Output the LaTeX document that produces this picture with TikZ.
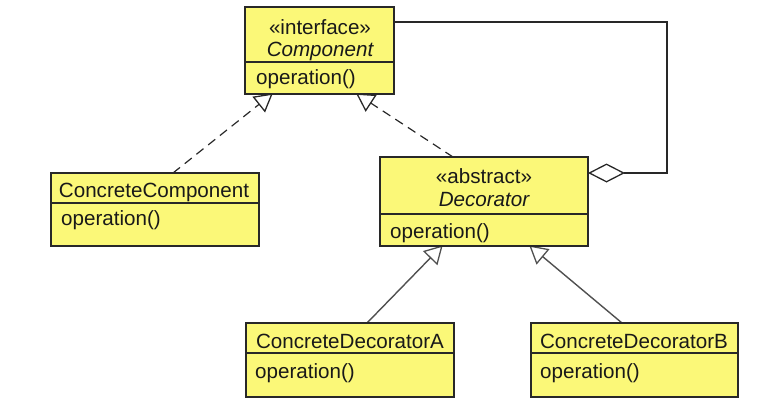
\documentclass[tikz,border=0pt]{standalone}
\usepackage{fontspec}
\setmainfont{Liberation Sans}
\usetikzlibrary{arrows.meta,calc,backgrounds}
\definecolor{umlfill}{RGB}{251,248,120}
\definecolor{boxline}{RGB}{40,40,40}
\definecolor{inhcol}{RGB}{80,80,80}
\definecolor{textcol}{RGB}{25,25,25}
\begin{document}
\begin{tikzpicture}[x=1pt,y=-1pt,
  font=\fontsize{20.6}{24}\selectfont,
  box/.style={draw=boxline, line width=1.3pt, fill=umlfill, anchor=north west,
    inner sep=0pt, outer sep=0pt},
  txt/.style={inner sep=0pt, text=textcol, anchor=base},
  optxt/.style={inner sep=0pt, text=textcol, anchor=base west},
  divider/.style={draw=boxline, line width=1.3pt},
  realize/.style={draw=boxline, line width=1.2pt, dash pattern=on 9pt off 6pt,
    shorten >=-1pt,
    -{Triangle[open, length=18pt, width=20pt, line width=1.3pt]}},
  inherit/.style={draw=inhcol, line width=1.4pt, shorten >=-1pt,
    -{Triangle[open, length=18pt, width=20pt, line width=1.3pt]}},
  aggr/.style={draw=boxline, line width=1.3pt,
    {Diamond[open, length=37pt, width=19pt, line width=1.3pt]}-}
]
\useasboundingbox (0,0) rectangle (758,418);

% class boxes
\node[box, minimum width=149pt, minimum height=87pt] (comp) at (245,7) {};
\node[box, minimum width=208pt, minimum height=73pt] (cc) at (51,173) {};
\node[box, minimum width=208pt, minimum height=89pt] (dec) at (380,157) {};
\node[box, minimum width=208pt, minimum height=74pt] (cda) at (246,323) {};
\node[box, minimum width=207pt, minimum height=74pt] (cdb) at (531,323) {};

% compartment dividers
\draw[divider] ($(comp.north west)+(0,55)$) -- ($(comp.north east)+(0,55)$);
\draw[divider] ($(cc.north west)+(0,30)$) -- ($(cc.north east)+(0,30)$);
\draw[divider] ($(dec.north west)+(0,57)$) -- ($(dec.north east)+(0,57)$);
\draw[divider] ($(cda.north west)+(0,30)$) -- ($(cda.north east)+(0,30)$);
\draw[divider] ($(cdb.north west)+(0,30)$) -- ($(cdb.north east)+(0,30)$);

% Component
\node[txt] (compst) at (320,34) {«interface»};
\node[txt] (compname) at (320,56) {\itshape Component};
\node[optxt] (compop) at (256,84) {operation()};

% ConcreteComponent
\node[txt] (ccname) at (154,197) {ConcreteComponent};
\node[optxt] (ccop) at (61,225) {operation()};

% Decorator
\node[txt] (decst) at (484,183) {«abstract»};
\node[txt] (decname) at (484,206) {\itshape Decorator};
\node[optxt] (decop) at (390,238) {operation()};

% ConcreteDecoratorA / B
\node[txt] (cdaname) at (350,348) {ConcreteDecoratorA};
\node[optxt] (cdaop) at (255,378) {operation()};
\node[txt] (cdbname) at (634,348) {ConcreteDecoratorB};
\node[optxt] (cdbop) at (540,378) {operation()};

% relations, kept behind the boxes
\begin{scope}[on background layer]
  \draw[realize] ($(cc.north west)+(122,0)$) -- ($(comp.south west)+(27,0)$);
  \draw[realize] ($(dec.north west)+(73,0)$) -- ($(comp.south west)+(112,0)$);
  \draw[inherit] ($(cda.north west)+(121,0)$) -- ($(dec.south west)+(62,0)$);
  \draw[inherit] ($(cdb.north west)+(91,0)$) -- ($(dec.south west)+(150,0)$);
\end{scope}
\draw[aggr] ($(dec.north east)+(0,16)$) -- ++(79,0) |- ($(comp.north east)+(0,15)$);
\end{tikzpicture}
\end{document}
